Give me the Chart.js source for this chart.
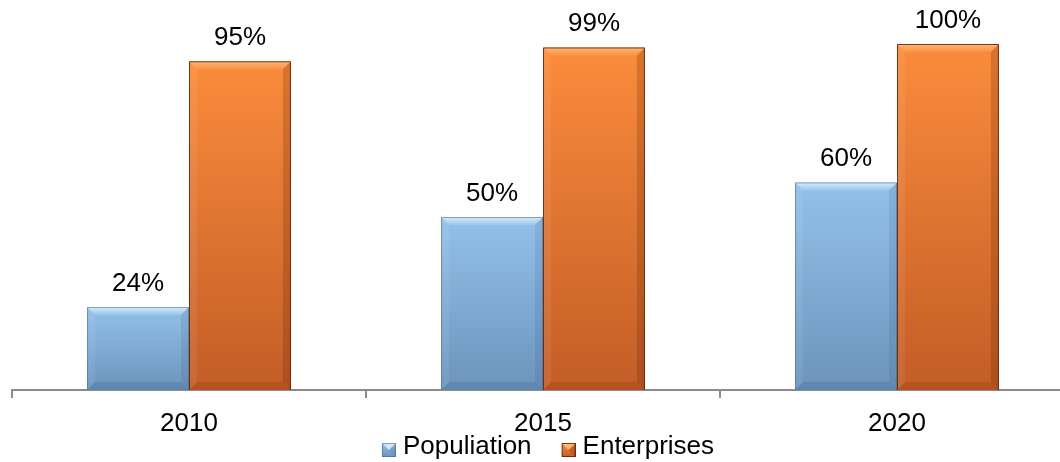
<!DOCTYPE html>
<html>
<head>
<meta charset="utf-8">
<script src="https://cdn.jsdelivr.net/npm/chart.js@4/dist/chart.umd.min.js"></script>
<style>
  html, body { margin: 0; padding: 0; background: #fff; overflow: hidden; }
  #wrap { width: 1060px; height: 462px; overflow: hidden; position: relative; }
  #c { position: absolute; left: -8px; top: 0; width: 1082px; height: 470px; }
</style>
</head>
<body>
<div id="wrap"><canvas id="c" width="1082" height="470"></canvas></div>
<script>
// Share of coverage by year
const years = ['2010', '2015', '2020'];
const populationShare = [24, 50, 60];
const enterpriseShare = [95, 99, 100];
const seriesNames = ['Populiation', 'Enterprises'];

const FONT = '"Liberation Sans", Arial, Helvetica, sans-serif';

// Shading for each series: body gradient plus bevel highlights
const tones = [
  { top: '#93C1E9', bottom: '#6C94BD', hiEdge: 'rgba(235,250,255,0.75)', hiInner: 'rgba(220,245,255,0.15)',
    side: 'rgba(20,50,90,0.10)', base: 'rgba(20,50,90,0.14)', rim: 'rgba(70,100,135,0.55)' },
  { top: '#FB8C3C', bottom: '#C35D27', hiEdge: 'rgba(255,225,170,0.55)', hiInner: 'rgba(255,210,150,0.10)',
    side: 'rgba(90,30,0,0.22)', base: 'rgba(90,30,0,0.14)', rim: 'rgba(95,35,8,0.85)' }
];

function barGradient(index) {
  return (c) => {
    const chart = c.chart;
    const t = tones[index];
    if (c.type !== 'data' || !chart.chartArea) return t.top;
    const ys = chart.scales.y;
    const top = ys.getPixelForValue(c.raw);
    const bot = ys.getPixelForValue(0);
    const g = chart.ctx.createLinearGradient(0, top, 0, bot);
    g.addColorStop(0, t.top);
    g.addColorStop(1, t.bottom);
    return g;
  };
}

// Small bevelled legend swatch; the square sits at the right of a
// transparent image so it lands just before its label
function legendSwatch(index) {
  const t = tones[index];
  const cv = document.createElement('canvas');
  cv.width = 50; cv.height = 20;
  const g = cv.getContext('2d');
  const x = 36, y = 6, s = 14;
  const body = g.createLinearGradient(0, y, 0, y + s);
  body.addColorStop(0, t.top);
  body.addColorStop(1, t.bottom);
  g.fillStyle = body;
  g.fillRect(x, y, s, s);
  g.fillStyle = t.hiEdge;
  g.beginPath();
  g.moveTo(x, y); g.lineTo(x + s, y); g.lineTo(x + s / 2, y + s / 2); g.closePath();
  g.fill();
  g.fillStyle = t.side;
  g.beginPath();
  g.moveTo(x + s, y); g.lineTo(x + s, y + s); g.lineTo(x + s / 2, y + s / 2); g.closePath();
  g.fill();
  g.strokeStyle = t.rim;
  g.lineWidth = 1;
  g.strokeRect(x + 0.5, y + 0.5, s - 1, s - 1);
  return cv;
}

const bevelPlugin = {
  id: 'bevel',
  afterDatasetsDraw(chart) {
    const ctx = chart.ctx;
    chart.data.datasets.forEach((ds, di) => {
      const t = tones[di];
      chart.getDatasetMeta(di).data.forEach((bar) => {
        const p = bar.getProps(['x', 'y', 'base', 'width'], true);
        const L = p.x - p.width / 2, R = p.x + p.width / 2, T = p.y, B = p.base;
        const b = Math.min(8, (B - T) / 2);
        ctx.save();
        // top highlight
        const hg = ctx.createLinearGradient(0, T, 0, T + b);
        hg.addColorStop(0, t.hiEdge);
        hg.addColorStop(1, t.hiInner);
        ctx.fillStyle = hg;
        ctx.beginPath();
        ctx.moveTo(L, T); ctx.lineTo(R, T); ctx.lineTo(R - b, T + b); ctx.lineTo(L + b, T + b); ctx.closePath();
        ctx.fill();
        // left light edge
        ctx.fillStyle = 'rgba(255,255,255,0.07)';
        ctx.beginPath();
        ctx.moveTo(L, T); ctx.lineTo(L + b, T + b); ctx.lineTo(L + b, B - b); ctx.lineTo(L, B); ctx.closePath();
        ctx.fill();
        // right shade
        ctx.fillStyle = t.side;
        ctx.beginPath();
        ctx.moveTo(R, T); ctx.lineTo(R, B); ctx.lineTo(R - b, B - b); ctx.lineTo(R - b, T + b); ctx.closePath();
        ctx.fill();
        // bottom shade
        ctx.fillStyle = t.base;
        ctx.beginPath();
        ctx.moveTo(L, B); ctx.lineTo(R, B); ctx.lineTo(R - b, B - b); ctx.lineTo(L + b, B - b); ctx.closePath();
        ctx.fill();
        // rim
        ctx.strokeStyle = t.rim;
        ctx.lineWidth = 1;
        ctx.beginPath();
        ctx.moveTo(R - 0.5, B); ctx.lineTo(R - 0.5, T + 0.5); ctx.lineTo(L + 0.5, T + 0.5); ctx.lineTo(L + 0.5, B);
        ctx.stroke();
        ctx.restore();
      });
    });
  }
};

const valueLabelPlugin = {
  id: 'valueLabels',
  afterDatasetsDraw(chart) {
    const ctx = chart.ctx;
    ctx.save();
    ctx.font = '26px ' + FONT;
    ctx.fillStyle = '#000';
    ctx.textAlign = 'center';
    ctx.textBaseline = 'alphabetic';
    chart.data.datasets.forEach((ds, di) => {
      chart.getDatasetMeta(di).data.forEach((bar, i) => {
        const p = bar.getProps(['x', 'y'], true);
        ctx.fillText(ds.data[i] + '%', p.x, p.y - 16);
      });
    });
    ctx.restore();
  }
};

new Chart(document.getElementById('c'), {
  type: 'bar',
  data: {
    labels: years,
    datasets: [
      { label: seriesNames[0], data: populationShare, backgroundColor: barGradient(0), borderWidth: 0 },
      { label: seriesNames[1], data: enterpriseShare, backgroundColor: barGradient(1), borderWidth: 0 }
    ]
  },
  options: {
    responsive: false,
    animation: false,
    layout: { padding: { top: 44, left: 0, right: 0, bottom: 0 } },
    datasets: { bar: { categoryPercentage: 0.576, barPercentage: 1.0 } },
    scales: {
      x: {
        grid: { display: true, drawOnChartArea: false, offset: true, tickLength: 8, color: '#8c8c8c', lineWidth: 2 },
        border: { display: true, color: '#8c8c8c', width: 2 },
        ticks: { color: '#000', font: { family: FONT, size: 26 }, padding: 10 },
        afterFit(scale) { scale.height = 44; }
      },
      y: {
        display: true,
        min: 0,
        max: 100,
        grid: { display: false },
        border: { display: false },
        ticks: { display: false },
        afterFit(scale) { scale.width = 20; }
      }
    },
    plugins: {
      tooltip: { enabled: false },
      legend: {
        position: 'bottom',
        labels: {
          usePointStyle: true,
          pointStyleWidth: 38,
          padding: 0,
          color: '#000',
          font: { family: FONT, size: 26 },
          generateLabels(chart) {
            return chart.data.datasets.map((ds, i) => ({
              text: ds.label,
              pointStyle: legendSwatch(i),
              fillStyle: tones[i].top,
              strokeStyle: tones[i].top,
              lineWidth: 0,
              hidden: false,
              datasetIndex: i,
              fontColor: '#000'
            }));
          }
        }
      }
    }
  },
  plugins: [bevelPlugin, valueLabelPlugin]
});
</script>
</body>
</html>
